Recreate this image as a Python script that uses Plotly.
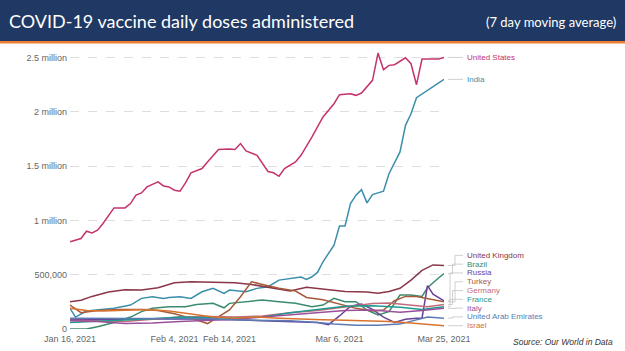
import plotly.graph_objects as go
import pandas as pd

START = pd.Timestamp("2021-01-16")
END = pd.Timestamp("2021-03-25")

# Day offsets from Jan 16, 2021 and 7-day average doses (thousands)
us_days = [0,2,3,4,5,6,8,10,11,12,13,14,16,17,18,19,20,21,22,24,25,27,29,30,31,32,34,35,36,37,38,39,41,42,44,46,47,48,49,51,52,53,55,56,57,58,59,61,62,63,64,67,68]
us_vals = [802,833,900,885,910,971,1115,1115,1155,1232,1253,1308,1354,1317,1308,1278,1268,1345,1437,1477,1538,1652,1657,1652,1707,1639,1599,1521,1450,1438,1406,1477,1538,1599,1768,1952,2013,2074,2157,2166,2151,2172,2289,2540,2387,2427,2433,2497,2442,2249,2485,2485,2500]

india_days = [0,1,3,5,8,11,13,15,17,18,20,22,24,26,28,29,32,34,36,38,40,42,43,44,45,46,48,49,50,51,52,53,54,55,56,57,58,60,61,62,63,65,67,68]
india_vals = [190,110,165,175,190,220,282,297,282,290,297,282,343,374,328,358,343,374,389,450,466,478,457,481,521,619,772,949,949,1155,1232,1283,1161,1238,1253,1268,1430,1630,1875,1982,2129,2197,2258,2298]

uk_days = [0,2,4,7,10,13,16,19,22,26,30,33,36,40,43,46,50,54,56,58,60,62,64,66,68]
uk_vals = [250,265,300,340,362,360,380,425,435,432,425,410,385,350,385,370,345,340,330,345,375,450,540,590,585]

br_days = [0,3,5,8,11,13,15,18,21,23,26,28,29,32,35,38,41,44,46,48,50,52,54,56,58,60,62,64,65,67,68]
br_vals = [0,0,20,60,110,160,190,205,205,225,236,195,236,251,267,251,236,205,220,282,251,251,175,130,159,312,312,300,380,470,510]

ru_days = [0,10,20,30,40,45,47,49,51,53,55,57,59,61,63,64,65,66,68]
ru_vals = [85,90,95,85,70,60,40,120,210,230,180,110,60,90,100,100,400,320,260]

tr_days = [0,2,5,9,13,16,19,22,25,27,29,31,33,35,38,41,43,46,49,52,55,57,59,61,63,65,68]
tr_vals = [220,150,170,180,180,170,140,100,50,110,175,297,435,410,375,350,290,270,230,190,165,175,260,300,300,280,250]

de_days = [0,5,10,15,20,25,30,35,40,45,50,55,58,62,65,68]
de_vals = [80,75,70,90,110,115,110,120,150,170,200,235,240,220,205,225]

fr_days = [0,5,10,15,20,25,30,35,40,45,50,55,60,64,68]
fr_vals = [60,70,80,95,110,105,100,110,150,180,210,215,200,180,205]

it_days = [0,5,10,15,20,25,30,35,40,45,50,55,60,64,68]
it_vals = [75,70,50,55,70,80,90,110,130,150,170,175,155,170,190]

ae_days = [0,10,20,25,30,35,40,45,48,52,56,60,63,65,68]
ae_vals = [100,100,100,95,85,80,75,60,45,35,35,45,80,110,100]

il_days = [0,3,6,10,14,18,22,26,30,34,38,42,46,50,54,58,62,65,68]
il_vals = [190,170,165,175,180,165,140,110,100,110,100,90,85,80,75,70,55,40,30]

series = [
    ("United States", us_days, us_vals, "#c4336e"),
    ("India", india_days, india_vals, "#3b8eaa"),
    ("United Kingdom", uk_days, uk_vals, "#8a3548"),
    ("Brazil", br_days, br_vals, "#3b8b6e"),
    ("Russia", ru_days, ru_vals, "#6b3f99"),
    ("Turkey", tr_days, tr_vals, "#a65a3a"),
    ("Germany", de_days, de_vals, "#c26b7b"),
    ("France", fr_days, fr_vals, "#1f9a8f"),
    ("Italy", it_days, it_vals, "#9a4f9a"),
    ("United Arab Emirates", ae_days, ae_vals, "#5b7bb5"),
    ("Israel", il_days, il_vals, "#d8732f"),
]
top_group = ["United States", "India"]

tick_dates = ["2021-01-16", "2021-02-04", "2021-02-14", "2021-03-06", "2021-03-25"]
tick_dates_text = ["Jan 16, 2021", "Feb 4, 2021", "Feb 14, 2021", "Mar 6, 2021", "Mar 25, 2021"]
y_ticks = [0, 500000, 1000000, 1500000, 2000000, 2500000]
y_ticks_text = ["0", "500,000", "1 million", "1.5 million", "2 million", "2.5 million"]

W, H = 625, 351
L, R, T, B = 70, 181, 52, 22
PW, PH = W - L - R, H - T - B
Y_MAX = 2550000


def px_x(p):
    return (p - L) / PW


def px_y(p):
    return (H - B - p) / PH


fig = go.Figure()
for name, days, vals, color in series:
    dates = [START + pd.Timedelta(days=d) for d in days]
    fig.add_trace(go.Scatter(
        x=dates, y=[v * 1000 for v in vals], mode="lines", name=name,
        line=dict(color=color, width=1.5), hoverinfo="skip"))

shapes = []
annotations = []
conn = dict(color="#c4c4c4", width=0.8)
label_font = "Liberation Sans"

# Labels for the top group at their end values
for name, days, vals, color in series:
    if name in top_group:
        yv = vals[-1] * 1000
        shapes.append(dict(type="line", xref="paper", yref="y", x0=px_x(448), x1=px_x(463), y0=yv, y1=yv, line=conn))
        annotations.append(dict(xref="paper", yref="y", x=px_x(465), y=yv, text=name, showarrow=False,
                                xanchor="left", yanchor="middle", font=dict(size=8, color=color, family=label_font)))

# Labels for the lower group spread upward from the smallest end value
low = [s for s in series if s[0] not in top_group]
low.sort(key=lambda s: s[2][-1])
gap = 81000
prev = None
for i, (name, days, vals, color) in enumerate(low):
    end = vals[-1] * 1000
    ly = end if prev is None else max(end, prev + gap)
    prev = ly
    mid = px_x(450 + (i % 3) * 2.5)
    shapes.append(dict(type="line", xref="paper", yref="y", x0=px_x(448), x1=mid, y0=end, y1=end, line=conn))
    shapes.append(dict(type="line", xref="paper", yref="y", x0=mid, x1=mid, y0=end, y1=ly, line=conn))
    shapes.append(dict(type="line", xref="paper", yref="y", x0=mid, x1=px_x(463), y0=ly, y1=ly, line=conn))
    annotations.append(dict(xref="paper", yref="y", x=px_x(465), y=ly, text=name, showarrow=False,
                            xanchor="left", yanchor="middle", font=dict(size=8, color=color, family=label_font)))

# Title banner
shapes.append(dict(type="rect", xref="paper", yref="paper", x0=px_x(-5), x1=px_x(W + 5), y0=px_y(41), y1=px_y(-5),
                   fillcolor="#1f3864", line=dict(width=0), layer="above"))
shapes.append(dict(type="rect", xref="paper", yref="paper", x0=px_x(-5), x1=px_x(W + 5), y0=px_y(43.5), y1=px_y(41),
                   fillcolor="#ed7d31", line=dict(width=0), layer="above"))

annotations.append(dict(xref="paper", yref="paper", x=px_x(7), y=px_y(21), text="COVID-19 vaccine daily doses administered",
                        showarrow=False, xanchor="left", yanchor="middle",
                        font=dict(size=18, color="white", family="Lato")))
annotations.append(dict(xref="paper", yref="paper", x=px_x(618), y=px_y(22), text="(7 day moving average)",
                        showarrow=False, xanchor="right", yanchor="middle",
                        font=dict(size=13, color="white", family="Lato")))
annotations.append(dict(xref="paper", yref="paper", x=px_x(615), y=px_y(342), text="<i>Source: Our World in Data</i>",
                        showarrow=False, xanchor="right", yanchor="middle",
                        font=dict(size=8.5, color="#333333", family="Liberation Sans")))

fig.update_layout(
    width=W, height=H,
    margin=dict(l=L, r=R, t=T, b=B, pad=0),
    paper_bgcolor="white", plot_bgcolor="white",
    showlegend=False,
    font=dict(family="Liberation Sans", size=9, color="#666666"),
    xaxis=dict(type="date", range=[START, END], showgrid=False, zeroline=False, showline=False,
               tickvals=tick_dates, ticktext=tick_dates_text, ticks="", ticklabelstandoff=3,
               automargin=False, tickfont=dict(size=9, color="#666666")),
    yaxis=dict(range=[0, Y_MAX], tickvals=y_ticks, ticktext=y_ticks_text, showgrid=True,
               gridcolor="#dedede", griddash="dash", gridwidth=1, zeroline=False, showline=False, ticks="",
               ticklabelstandoff=2, automargin=False, tickfont=dict(size=9, color="#666666")),
    shapes=shapes,
    annotations=annotations,
)

fig.write_html("out.html")
